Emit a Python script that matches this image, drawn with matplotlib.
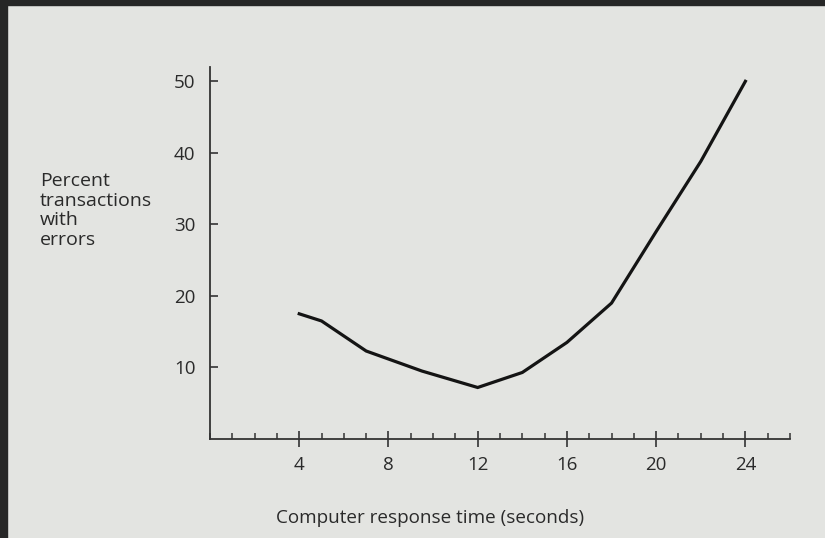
import matplotlib.pyplot as plt
from matplotlib.ticker import MultipleLocator
from matplotlib.patches import Rectangle

# data
resp_time = [4, 5, 7, 9.5, 12, 14, 16, 18, 20, 22, 24]
pct_errors = [17.5, 16.5, 12.3, 9.5, 7.2, 9.3, 13.5, 19, 29, 38.8, 50]
x_ticks = [4, 8, 12, 16, 20, 24]
y_ticks = [10, 20, 30, 40, 50]

paper = '#e3e4e1'
ink = '#2a2a2a'
plt.rcParams['font.family'] = ['Open Sans', 'DejaVu Sans']

fig = plt.figure(figsize=(8.25, 5.38), dpi=100, facecolor=paper)
# dark border of the photo
fig.patches.append(Rectangle((0, 0), 7 / 825, 1, transform=fig.transFigure, color='#262626', zorder=0))
fig.patches.append(Rectangle((0, 1 - 5 / 538), 1, 5 / 538, transform=fig.transFigure, color='#262626', zorder=0))

ax = fig.add_axes([210 / 825, 99 / 538, 580 / 825, 372 / 538])
ax.set_facecolor(paper)
ax.plot(resp_time, pct_errors, color='#141414', lw=2.3, solid_joinstyle='miter')

ax.set_xlim(0, 26)
ax.set_ylim(0, 52)
for s in ['top', 'right']:
    ax.spines[s].set_visible(False)
for s in ['left', 'bottom']:
    ax.spines[s].set_color('#333333')
    ax.spines[s].set_linewidth(1.3)

ax.set_xticks(x_ticks)
ax.xaxis.set_minor_locator(MultipleLocator(1))
ax.set_yticks(y_ticks)
ax.tick_params(axis='x', which='major', direction='inout', length=11, width=1.2,
               colors='#333333', labelsize=13.5, pad=7)
ax.tick_params(axis='x', which='minor', direction='in', length=4, width=1.1, colors='#333333')
ax.tick_params(axis='y', direction='in', length=6, width=1.2, colors='#333333',
               labelsize=13.5, pad=10.5)
for lab in ax.get_xticklabels() + ax.get_yticklabels():
    lab.set_color(ink)

fig.text(40 / 825, 1 - 172 / 538, 'Percent\ntransactions\nwith\nerrors', ha='left', va='top',
         fontsize=14, color=ink, linespacing=1.12)
fig.text(430 / 825, 1 - 518 / 538, 'Computer response time (seconds)', ha='center', va='center',
         fontsize=13.6, color=ink)

fig.savefig('out.png', dpi=100, facecolor=paper)
